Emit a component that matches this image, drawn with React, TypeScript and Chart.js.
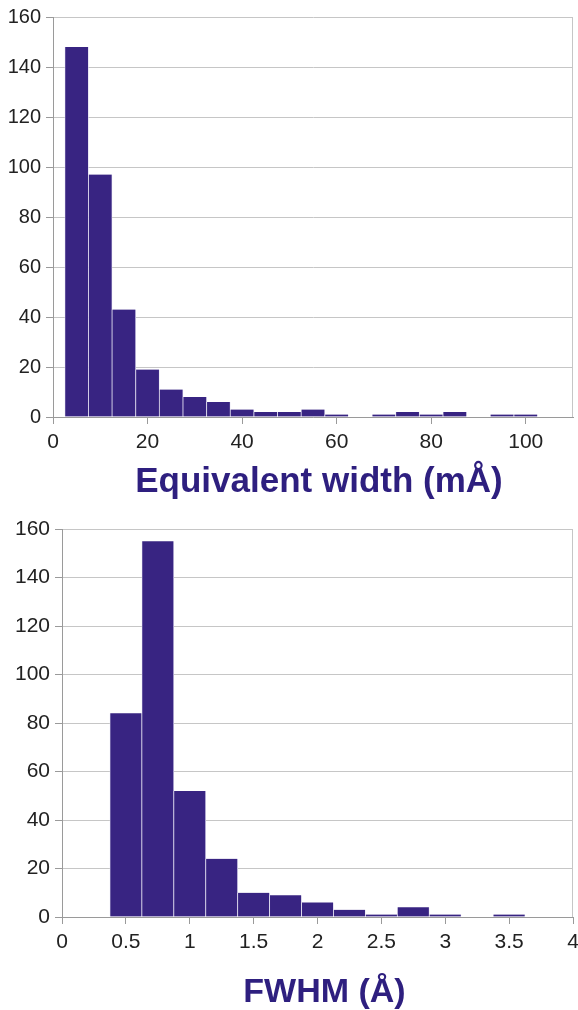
import React, { useEffect, useRef } from "react";
import { Chart, registerables } from "chart.js";

Chart.register(...registerables);

// ---- Data: equivalent width histogram (bin centres in mÅ, bin width 5) ----
const ewCenters = [5, 10, 15, 20, 25, 30, 35, 40, 45, 50, 55, 60, 65, 70, 75, 80, 85, 90, 95, 100, 105];
const ewCounts = [148, 97, 43, 19, 11, 8, 6, 3, 2, 2, 3, 1, 0, 1, 2, 1, 2, 0, 1, 1, 0];
const ewTicks = [0, 20, 40, 60, 80, 100];

// ---- Data: FWHM histogram (bin centres in Å, bin width 0.25) ----
const fwhmCenters = [0.5, 0.75, 1.0, 1.25, 1.5, 1.75, 2.0, 2.25, 2.5, 2.75, 3.0, 3.25, 3.5, 3.75];
const fwhmCounts = [84, 155, 52, 24, 10, 9, 6, 3, 1, 4, 1, 0, 1, 0];
const fwhmTicks = [0, 0.5, 1, 1.5, 2, 2.5, 3, 3.5, 4];

const countTicks = [0, 20, 40, 60, 80, 100, 120, 140, 160];

const FONT = '"Liberation Sans", Arial, Helvetica, sans-serif';
const BAR = "#382482";
const TITLE = "#2e1f7f";
const AXIS = "#9a9a9a";
const GRID = "#c6c6c6";

const frameRight = {
  id: "frameRight",
  afterDatasetsDraw(chart: any) {
    const { ctx, chartArea } = chart;
    ctx.save();
    ctx.strokeStyle = GRID;
    ctx.lineWidth = 1;
    const x = Math.round(chartArea.right) - 0.5;
    ctx.beginPath();
    ctx.moveTo(x, chartArea.top);
    ctx.lineTo(x, chartArea.bottom);
    ctx.stroke();
    ctx.restore();
  },
};

type Cfg = {
  centers: number[];
  counts: number[];
  xTicks: number[];
  xMax: number;
  title: string;
  titleSize: number;
  titlePadBottom: number;
  titleShift: number;
  padTop: number;
  padRight: number;
  yWidth: number;
  xHeight: number;
  yFont: number;
};

function makeChart(canvas: HTMLCanvasElement, c: Cfg) {
  return new Chart(canvas, {
    type: "bar",
    data: {
      datasets: [
        {
          data: c.centers.map((x, i) => ({ x, y: c.counts[i] })),
          backgroundColor: BAR,
          borderColor: "#e4e1f2",
          borderWidth: { left: 0.75, right: 0.75, top: 0, bottom: 0 } as any,
          borderSkipped: "start",
          barPercentage: 1,
          categoryPercentage: 1,
        },
      ],
    },
    options: {
      responsive: false,
      animation: false,
      layout: { padding: { top: c.padTop, right: c.padRight, left: 0, bottom: 0 } },
      plugins: { legend: { display: false }, tooltip: { enabled: false }, title: { display: false } },
      scales: {
        x: {
          type: "linear",
          offset: false,
          min: 0,
          max: c.xMax,
          afterBuildTicks: (axis: any) => {
            axis.ticks = c.xTicks.map((v) => ({ value: v }));
          },
          afterFit: (axis: any) => {
            axis.height = c.xHeight;
            axis.paddingLeft = 0;
            axis.paddingRight = 0;
            if (!axis.__shiftedTitle) {
              const orig = axis.drawTitle;
              axis.drawTitle = function () {
                const ctx = this.ctx;
                ctx.save();
                ctx.translate(c.titleShift, 0);
                orig.call(this);
                ctx.restore();
              };
              axis.__shiftedTitle = true;
            }
          },
          ticks: {
            color: "#222",
            font: { family: FONT, size: 21 },
            padding: 6,
            maxRotation: 0,
            autoSkip: false,
            callback: (v: any) => String(v),
          },
          grid: {
            drawOnChartArea: false,
            drawTicks: true,
            tickLength: 7,
            color: AXIS,
            offset: false,
          },
          border: { display: true, color: AXIS },
          title: {
            display: true,
            text: c.title,
            color: TITLE,
            font: { family: FONT, size: c.titleSize, weight: "bold" },
            padding: { top: 0, bottom: c.titlePadBottom },
          },
        },
        y: {
          type: "linear",
          min: 0,
          max: 160,
          afterBuildTicks: (axis: any) => {
            axis.ticks = countTicks.map((v) => ({ value: v }));
          },
          afterFit: (axis: any) => {
            axis.width = c.yWidth;
          },
          ticks: {
            color: "#222",
            font: { family: FONT, size: c.yFont },
            padding: 5,
            callback: (v: any) => String(v),
          },
          grid: { color: GRID, tickColor: AXIS, tickLength: 7, drawTicks: true },
          border: { display: true, color: AXIS },
        },
      },
    } as any,
    plugins: [frameRight],
  });
}

function Hist({ cfg, top }: { cfg: Cfg; top: number }) {
  const ref = useRef<HTMLCanvasElement | null>(null);
  useEffect(() => {
    if (!ref.current) return;
    const ch = makeChart(ref.current, cfg);
    return () => ch.destroy();
  }, []);
  return (
    <canvas
      ref={ref}
      width={578}
      height={505}
      style={{ position: "absolute", left: 0, top, width: 578, height: 505 }}
    />
  );
}

const ewCfg: Cfg = {
  centers: ewCenters,
  counts: ewCounts,
  xTicks: ewTicks,
  xMax: 110,
  title: "Equivalent width (mÅ)",
  titleSize: 35,
  titlePadBottom: 2,
  titleShift: 6,
  padTop: 13,
  padRight: 5,
  yWidth: 53,
  xHeight: 88,
  yFont: 20,
};

const fwhmCfg: Cfg = {
  centers: fwhmCenters,
  counts: fwhmCounts,
  xTicks: fwhmTicks,
  xMax: 4,
  title: "FWHM (Å)",
  titleSize: 34,
  titlePadBottom: -3,
  titleShift: 7,
  padTop: 24,
  padRight: 5,
  yWidth: 62,
  xHeight: 93,
  yFont: 21,
};

export default function App() {
  return (
    <div style={{ position: "absolute", left: 0, top: 0, width: 578, height: 1010, background: "#fff" }}>
      <Hist cfg={ewCfg} top={0} />
      <Hist cfg={fwhmCfg} top={505} />
    </div>
  );
}
